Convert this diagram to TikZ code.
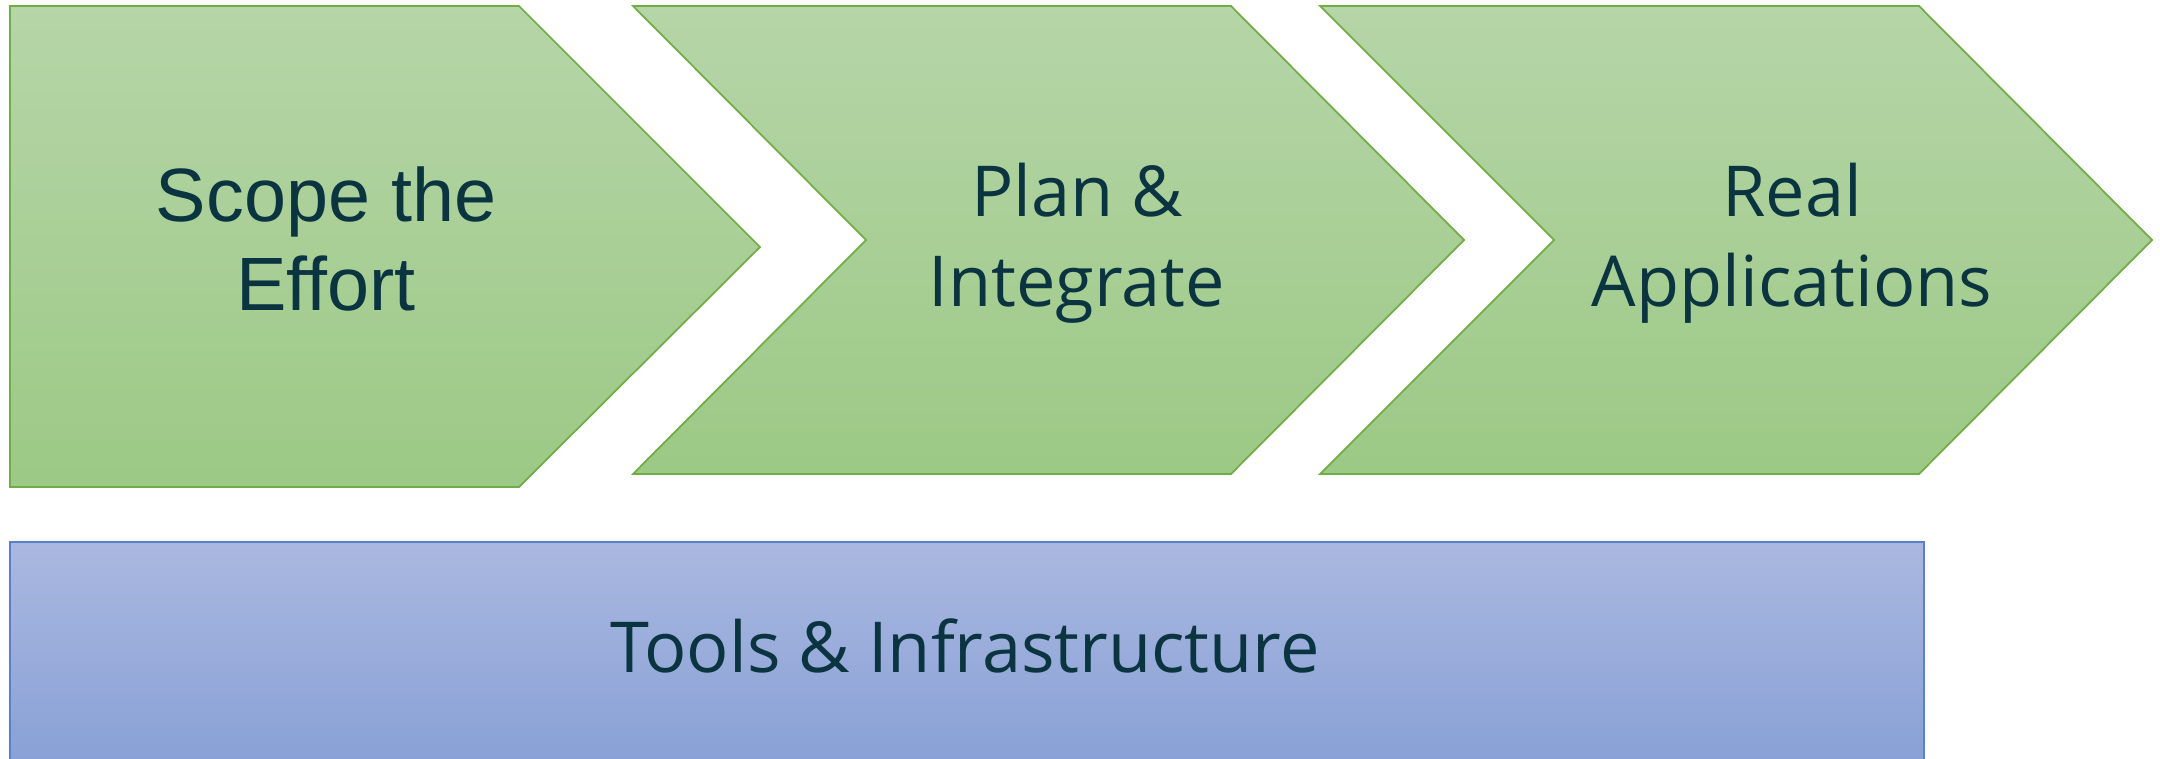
\documentclass[tikz,border=0pt]{standalone}
\usepackage{fontspec}
\setmainfont{Open Sans}
\newfontfamily\arialfont{Liberation Sans}
\definecolor{stagetop}{HTML}{B6D5A8}
\definecolor{stagebot}{HTML}{9CC985}
\definecolor{stageline}{HTML}{70AD47}
\definecolor{basetop}{HTML}{AAB8E0}
\definecolor{basebot}{HTML}{88A0D6}
\definecolor{baseline}{HTML}{5B7FC8}
\definecolor{lbltext}{HTML}{0B3441}

\begin{document}
\begin{tikzpicture}[
		stage/.style={draw=stageline, line width=0.5pt, top color=stagetop, bottom color=stagebot},
		basebar/.style={draw=baseline, line width=0.5pt, top color=basetop, bottom color=basebot},
		lbl/.style={text=lbltext, align=center, inner sep=0pt, font=\fontsize{20}{25.5}\selectfont}
	]
		\useasboundingbox (0,0) rectangle (21.6,7.58);

		% the three steps
		\draw[stage] (0.10,7.52) -- (5.19,7.52) -- (7.60,5.11) -- (5.19,2.71) -- (0.10,2.71) -- cycle;
		\draw[stage] (6.33,7.52) -- (12.31,7.52) -- (14.64,5.18) -- (12.31,2.84) -- (6.33,2.84) -- (8.66,5.18) -- cycle;
		\draw[stage] (13.20,7.52) -- (19.19,7.52) -- (21.52,5.18) -- (19.19,2.84) -- (13.20,2.84) -- (15.54,5.18) -- cycle;

		% bar underneath
		\begin{scope}
			\clip (0,0) rectangle (21.6,7.58);
			\draw[basebar] (0.10,2.16) rectangle (19.24,-0.10);
		\end{scope}

		\node[lbl, font=\arialfont\fontsize{21.5}{25.5}\selectfont] (scope) at (3.26,5.19) {Scope the\\Effort};
		\node[lbl] (plan) at (10.77,5.15) {Plan \&\\Integrate};
		\node[lbl] (apps) at (17.92,5.15) {Real\\Applications};
		\node[lbl, anchor=base] (tools) at (9.65,0.86) {Tools \& Infrastructure};
	\end{tikzpicture}
\end{document}
